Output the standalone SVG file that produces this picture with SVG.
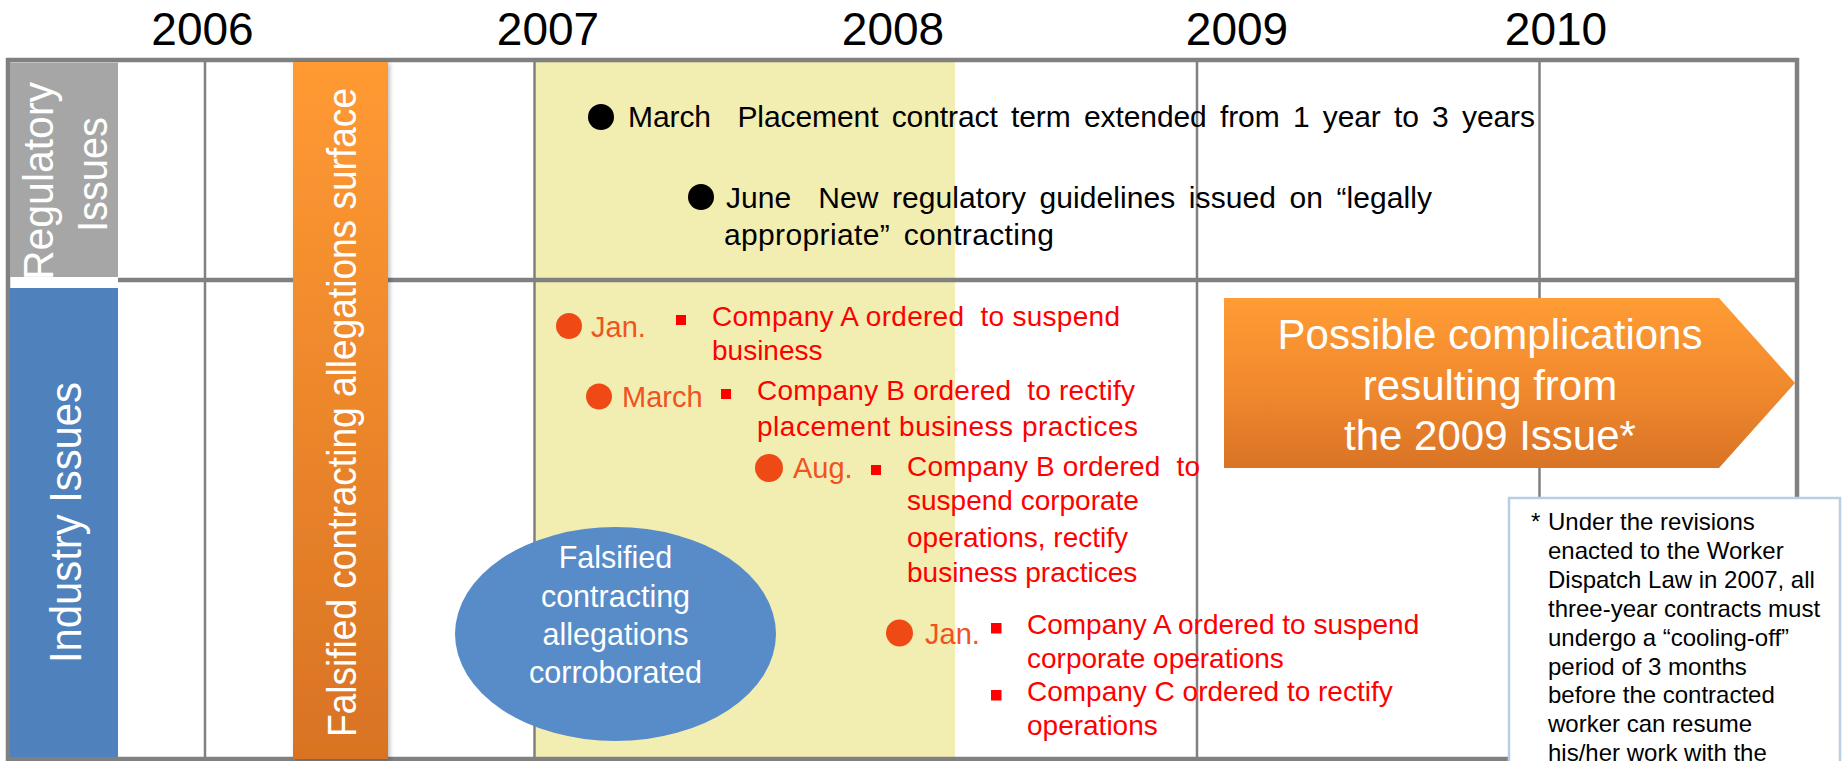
<svg xmlns="http://www.w3.org/2000/svg" width="1843" height="761" viewBox="0 0 1843 761">
  <style>
    text { font-family: "Liberation Sans", Arial, sans-serif; }
    .year { font-size: 46px; fill: #000; text-anchor: middle; }
    .grid { stroke: #808080; stroke-width: 2.5; fill: none; }
    .frame { stroke: #808080; stroke-width: 4.5; fill: none; }
    .lane-label { fill: #fff; font-size: 43px; }
    .reg { font-size: 30px; fill: #000; word-spacing: 5px; }
    .dot-black { fill: #000; }
    .dot-red { fill: #EF4A15; }
    .month { font-size: 29px; fill: #F0531F; }
    .sq { fill: #FF0000; }
    .ind { font-size: 28px; fill: #FF0000; }
    .white-mid { fill: #fff; text-anchor: middle; }
    .note { font-size: 24px; fill: #000; }
  </style>
  <defs>
    <linearGradient id="orangeBar" x1="0" y1="0" x2="0" y2="1">
      <stop offset="0" stop-color="#FF9A33"/>
      <stop offset="1" stop-color="#D97324"/>
    </linearGradient>
    <linearGradient id="orangeArrow" x1="0" y1="0" x2="0" y2="1">
      <stop offset="0" stop-color="#FF9C34"/>
      <stop offset="0.5" stop-color="#F28A2E"/>
      <stop offset="1" stop-color="#D97426"/>
    </linearGradient>
    <filter id="softShadow" x="-10%" y="-5%" width="130%" height="110%">
      <feDropShadow dx="2" dy="1" stdDeviation="2" flood-color="#000" flood-opacity="0.25"/>
    </filter>
  </defs>

  <rect width="1843" height="761" fill="#fff"/>

  <!-- highlighted period -->
  <rect id="band-2007" x="535" y="60" width="420" height="699" fill="#F2EDB1"/>

  <!-- year axis -->
  <g id="years">
    <text class="year" x="202.5" y="45">2006</text>
    <text class="year" x="548" y="45">2007</text>
    <text class="year" x="893" y="45">2008</text>
    <text class="year" x="1237" y="45">2009</text>
    <text class="year" x="1556" y="45">2010</text>
  </g>

  <!-- table grid -->
  <g id="grid">
    <line class="grid" x1="205" y1="60" x2="205" y2="759"/>
    <line class="grid" x1="534.5" y1="60" x2="534.5" y2="759"/>
    <line class="grid" x1="1197" y1="60" x2="1197" y2="759"/>
    <line class="grid" x1="1539.5" y1="60" x2="1539.5" y2="759"/>
    <line class="frame" x1="118" y1="280" x2="1797" y2="280"/>
    <rect class="frame" x="8" y="60" width="1789" height="699"/>
  </g>

  <!-- lane headers -->
  <g id="lane-regulatory">
    <rect x="10" y="62.5" width="108" height="214.5" fill="#A6A6A6"/>
    <text class="lane-label" transform="translate(53,280) rotate(-90)" textLength="198" lengthAdjust="spacingAndGlyphs">Regulatory</text>
    <text class="lane-label" transform="translate(107,232) rotate(-90)" textLength="115" lengthAdjust="spacingAndGlyphs">Issues</text>
  </g>
  <g id="lane-industry">
    <rect x="10" y="288" width="108" height="469" fill="#4F81BD"/>
    <text class="lane-label" style="font-size:45px" transform="translate(81,663) rotate(-90)" textLength="281" lengthAdjust="spacingAndGlyphs">Industry Issues</text>
  </g>

  <!-- vertical milestone bar -->
  <g id="allegations-surface">
    <rect x="293" y="62" width="95" height="697" fill="url(#orangeBar)" filter="url(#softShadow)"/>
    <text class="lane-label" style="font-size:41px" transform="translate(356,737) rotate(-90)" textLength="649" lengthAdjust="spacingAndGlyphs">Falsified contracting allegations surface</text>
  </g>

  <!-- regulatory events -->
  <g id="reg-march">
    <circle class="dot-black" cx="601" cy="117" r="13"/>
    <text class="reg" x="628" y="127" textLength="907" lengthAdjust="spacing" xml:space="preserve">March  Placement contract term extended from 1 year to 3 years</text>
  </g>
  <g id="reg-june">
    <circle class="dot-black" cx="701" cy="197" r="13"/>
    <text class="reg" x="726" y="208" textLength="706" lengthAdjust="spacing" xml:space="preserve">June  New regulatory guidelines issued on “legally</text>
    <text class="reg" x="724" y="245" textLength="330" lengthAdjust="spacing">appropriate” contracting</text>
  </g>

  <!-- industry events -->
  <g id="ind-jan-2007">
    <circle class="dot-red" cx="569" cy="326" r="13"/>
    <text class="month" x="591" y="337">Jan.</text>
    <rect class="sq" x="676" y="315" width="10" height="10"/>
    <text class="ind" x="712" y="326" textLength="408" lengthAdjust="spacing" xml:space="preserve">Company A ordered  to suspend</text>
    <text class="ind" x="712" y="360">business</text>
  </g>
  <g id="ind-march-2007">
    <circle class="dot-red" cx="599" cy="396.5" r="13"/>
    <text class="month" x="622" y="407">March</text>
    <rect class="sq" x="721" y="389" width="10" height="10"/>
    <text class="ind" x="757" y="400" textLength="378" lengthAdjust="spacing" xml:space="preserve">Company B ordered  to rectify</text>
    <text class="ind" x="757" y="436" textLength="381" lengthAdjust="spacing">placement business practices</text>
  </g>
  <g id="ind-aug-2007">
    <circle class="dot-red" cx="769" cy="468" r="14"/>
    <text class="month" x="793" y="478">Aug.</text>
    <rect class="sq" x="871" y="465" width="10" height="10"/>
    <text class="ind" x="907" y="476" textLength="293" lengthAdjust="spacing" xml:space="preserve">Company B ordered  to</text>
    <text class="ind" x="907" y="510">suspend corporate</text>
    <text class="ind" x="907" y="547">operations, rectify</text>
    <text class="ind" x="907" y="582">business practices</text>
  </g>
  <g id="ind-jan-2008">
    <circle class="dot-red" cx="899.5" cy="633" r="13.5"/>
    <text class="month" x="925" y="644">Jan.</text>
    <rect class="sq" x="991" y="623" width="10.5" height="10.5"/>
    <text class="ind" x="1027" y="634">Company A ordered to suspend</text>
    <text class="ind" x="1027" y="668">corporate operations</text>
    <rect class="sq" x="991" y="690" width="10.5" height="10.5"/>
    <text class="ind" x="1027" y="701">Company C ordered to rectify</text>
    <text class="ind" x="1027" y="735">operations</text>
  </g>

  <!-- corroboration callout -->
  <g id="allegations-corroborated">
    <ellipse cx="615.5" cy="634" rx="160.5" ry="107" fill="#588CC9"/>
    <text class="white-mid" style="font-size:30.5px" x="615.5" y="568">Falsified</text>
    <text class="white-mid" style="font-size:30.5px" x="615.5" y="607">contracting</text>
    <text class="white-mid" style="font-size:30.5px" x="615.5" y="645">allegations</text>
    <text class="white-mid" style="font-size:30.5px" x="615.5" y="683">corroborated</text>
  </g>

  <!-- outlook arrow -->
  <g id="possible-complications">
    <polygon points="1224,298 1719,298 1795,383 1719,468 1224,468" fill="url(#orangeArrow)"/>
    <text class="white-mid" style="font-size:42px" x="1490" y="349">Possible complications</text>
    <text class="white-mid" style="font-size:42px" x="1490" y="400">resulting from</text>
    <text class="white-mid" style="font-size:42px" x="1490" y="450">the 2009 Issue*</text>
  </g>

  <!-- footnote -->
  <g id="footnote">
    <rect x="1509" y="498" width="331" height="300" fill="#fff" stroke="#B9CDE5" stroke-width="2.5"/>
    <text class="note" x="1531" y="530">*</text>
    <text class="note" x="1548" y="530">Under the revisions</text>
    <text class="note" x="1548" y="559">enacted to the Worker</text>
    <text class="note" x="1548" y="588">Dispatch Law in 2007, all</text>
    <text class="note" x="1548" y="617">three-year contracts must</text>
    <text class="note" x="1548" y="646">undergo a “cooling-off”</text>
    <text class="note" x="1548" y="675">period of 3 months</text>
    <text class="note" x="1548" y="703">before the contracted</text>
    <text class="note" x="1548" y="732">worker can resume</text>
    <text class="note" x="1548" y="761">his/her work with the</text>
  </g>
</svg>
